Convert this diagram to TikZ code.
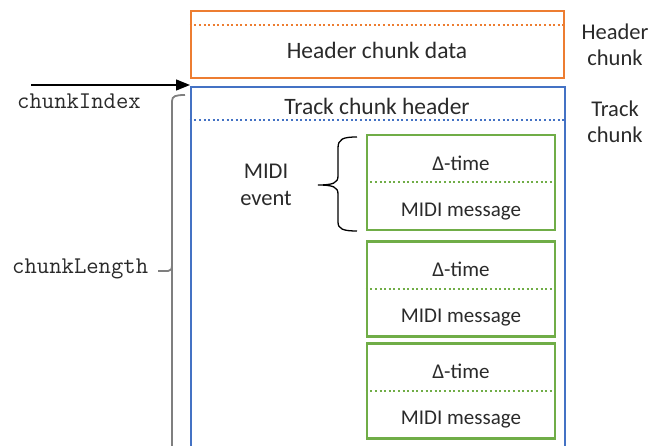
\documentclass[tikz,border=0pt]{standalone}
\usepackage{fontspec}
\setmainfont{Carlito}
\usetikzlibrary{arrows.meta}
\definecolor{orng}{HTML}{ED7D31}
\definecolor{blu}{HTML}{4472C4}
\definecolor{grn}{HTML}{70AD47}
\definecolor{gry}{HTML}{7F7F7F}
\definecolor{txt}{HTML}{2A2A2A}
\begin{document}
\begin{tikzpicture}[x=1pt,y=-1pt,
  lbl/.style={text=txt,font=\fontsize{21}{26}\selectfont,inner sep=0pt},
  biglbl/.style={text=txt,font=\fontsize{23.5}{27}\selectfont,inner sep=0pt},
  sidelbl/.style={text=txt,font=\fontsize{22.5}{26.5}\selectfont,inner sep=0pt,align=center},
  monolbl/.style={text=txt,font=\ttfamily\fontsize{24}{26}\selectfont,inner sep=0pt},
  frame/.style={draw,line width=2.6pt,inner sep=0pt},
  dotline/.style={line width=2pt,dash pattern=on 2pt off 2.6pt},
  evbox/.style={frame,draw=grn,minimum width=188pt,minimum height=95pt}]
\useasboundingbox (0,0) rectangle (654,446);
\clip (0,0) rectangle (654,446);
% header chunk
\node[frame,draw=orng,minimum width=373pt,minimum height=67pt] (hdr) at (377.5,44.5) {};
\draw[orng,dotline] ([yshift=-15.5pt]hdr.north west) -- ([yshift=-15.5pt]hdr.north east);
\node[biglbl] (hdrtxt) at (377,50) {Header chunk data};
\node[sidelbl] (hdrlab) at (615,45) {Header\\chunk};
% track chunk
\node[frame,draw=blu,minimum width=374pt,minimum height=380pt] (trk) at (378,277) {};
\draw[blu,dotline] ([yshift=-34pt]trk.north west) -- ([yshift=-34pt]trk.north east);
\node[biglbl] (trktxt) at (377,106) {Track chunk header};
\node[sidelbl] (trklab) at (615,122) {Track\\chunk};
% events
\foreach \n/\cy in {1/182.5,2/289,3/391}{
  \node[evbox] (ev\n) at (461,\cy) {};
  \draw[grn,dotline] (ev\n.west) -- (ev\n.east);
  \node[lbl,anchor=base] (dt\n) at ([yshift=12pt]ev\n.center) {Δ-time};
  \node[lbl,anchor=base] (mm\n) at ([yshift=-34pt]ev\n.center) {MIDI message};
}
% MIDI event brace
\node[sidelbl] (mev) at (266,185) {MIDI\\event};
\coordinate (bt) at (357,137);
\coordinate (bb) at (357,231);
\coordinate (btip) at (318,185);
\draw[black,line width=1.3pt] (bt) .. controls (343,137) and (338,139) .. (338,148) -- (338,176)
  .. controls (338,183) and (333,185) .. (btip)
  .. controls (333,185) and (338,187) .. (338,194) -- (338,222)
  .. controls (338,229) and (343,231) .. (bb);
% chunkIndex arrow
\coordinate (ai) at (31,85);
\draw[line width=1.3pt,-{Triangle[length=14pt,width=11pt]}] (ai) -- (190,85);
\node[monolbl,anchor=west] (cidx) at (17,101) {chunkIndex};
% chunkLength brace
\coordinate (gt) at (185,95);
\coordinate (gb) at (172,450);
\coordinate (gtip) at (158,271);
\draw[gry,line width=1.8pt] (gt) .. controls (176,95) and (172,96) .. (172,101) -- (gb);
\draw[gry,line width=1.8pt] (gtip) -- (168,271) .. controls (171,271) and (172,269) .. (172,265);
\node[monolbl,anchor=west] (clen) at (12,269) {chunkLength};
\end{tikzpicture}
\end{document}
